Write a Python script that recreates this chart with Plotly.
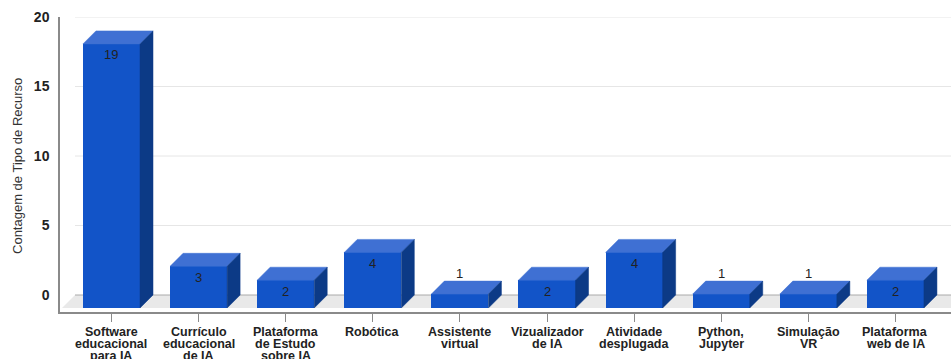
import plotly.graph_objects as go

# --- data -------------------------------------------------------------
categories = [
    "Software\neducacional\npara IA",
    "Currículo\neducacional\nde IA",
    "Plataforma\nde Estudo\nsobre IA",
    "Robótica",
    "Assistente\nvirtual",
    "Vizualizador\nde IA",
    "Atividade\ndesplugada",
    "Python,\nJupyter",
    "Simulação\nVR",
    "Plataforma\nweb de IA",
]
values = [19, 3, 2, 4, 1, 2, 4, 1, 1, 2]
y_ticks = [0, 5, 10, 15, 20]
y_title = "Contagem de Tipo de Recurso"

# --- styling / pseudo-3D geometry ------------------------------------
W, H = 951, 359
M_L, M_R, M_T, M_B = 60, 0, 17, 47
X_RANGE = [-0.591, 9.638]
Y_RANGE = [-1.223, 20]
px_per_x = (W - M_L - M_R) / (X_RANGE[1] - X_RANGE[0])
px_per_y = (H - M_T - M_B) / (Y_RANGE[1] - Y_RANGE[0])
DEPTH_PX = 13
dx = DEPTH_PX / px_per_x      # depth offset in category units
dy = DEPTH_PX / px_per_y      # depth offset in value units
bar_w = 0.655

FRONT = "#1254C8"
TOP = "#3F70D3"
SIDE = "#0C3A86"
FONT = "Arial, Liberation Sans, sans-serif"
TXT = "#222222"
AXIS = "#8a8a8a"

idx = list(range(len(categories)))

fig = go.Figure()

# front faces of the columns (sitting on the front edge of the floor)
fig.add_trace(go.Bar(
    x=idx, y=values, base=[-dy] * len(values), width=bar_w,
    marker=dict(color=FRONT, line=dict(width=0)),
    hoverinfo="skip", showlegend=False,
))

# top and side faces as filled polygons
top_x, top_y, side_x, side_y = [], [], [], []
for i, v in zip(idx, values):
    xl, xr = i - bar_w / 2, i + bar_w / 2
    top_x += [xl, xr, xr + dx, xl + dx, xl, None]
    top_y += [v - dy, v - dy, v, v, v - dy, None]
    side_x += [xr, xr, xr + dx, xr + dx, xr, None]
    side_y += [-dy, v - dy, v, 0, -dy, None]

fig.add_trace(go.Scatter(x=top_x, y=top_y, mode="lines", fill="toself",
                         fillcolor=TOP, line=dict(color=TOP, width=0.5),
                         hoverinfo="skip", showlegend=False))
fig.add_trace(go.Scatter(x=side_x, y=side_y, mode="lines", fill="toself",
                         fillcolor=SIDE, line=dict(color=SIDE, width=0.5),
                         hoverinfo="skip", showlegend=False))

# floor and back-wall gridlines
floor_l = X_RANGE[0] + 2 / px_per_x
floor_r = X_RANGE[1] + 1
shapes = [dict(
    type="path", xref="x", yref="y", layer="below",
    path=f"M {floor_l},{-dy} L {floor_r},{-dy} L {floor_r},0 L {floor_l + dx},0 Z",
    fillcolor="#e9e9e9", line=dict(width=0),
)]
for t in y_ticks:
    shapes.append(dict(
        type="line", xref="x", yref="y", layer="below",
        x0=floor_l + dx, x1=floor_r, y0=t, y1=t,
        line=dict(color="#aaaaaa" if t == 0 else "#e6e6e6", width=1),
    ))

annotations = []
# value labels
for i, v in zip(idx, values):
    inside = v * px_per_y >= 20
    annotations.append(dict(
        x=i, y=(v - dy) if inside else v, xref="x", yref="y",
        text=str(v), showarrow=False, yanchor="middle",
        yshift=-11 if inside else 8,
        font=dict(family=FONT, size=13, color=TXT),
    ))
# category labels, one line at a time
for i, cat in zip(idx, categories):
    for j, line in enumerate(cat.split("\n")):
        annotations.append(dict(
            x=i, y=0, xref="x", yref="paper", text=f"<b>{line}</b>",
            showarrow=False, yanchor="middle", yshift=-20 - 12 * j,
            font=dict(family=FONT, size=12.5, color=TXT),
        ))
# y-axis title
annotations.append(dict(
    x=(18 - M_L) / (W - M_L - M_R), y=0.495, xref="paper", yref="paper",
    text=y_title, textangle=-90, showarrow=False,
    xanchor="center", yanchor="middle",
    font=dict(family=FONT, size=13, color="#333333"),
))

fig.update_layout(
    width=W, height=H,
    margin=dict(l=M_L, r=M_R, t=M_T, b=M_B),
    paper_bgcolor="white", plot_bgcolor="white",
    shapes=shapes, annotations=annotations,
    xaxis=dict(range=X_RANGE, tickvals=idx, showticklabels=False,
               ticks="outside", ticklen=8, tickcolor=AXIS,
               showline=True, linecolor=AXIS, linewidth=1.5,
               showgrid=False, zeroline=False, fixedrange=True),
    yaxis=dict(range=Y_RANGE, tickvals=y_ticks,
               ticktext=[f"<b>{t}</b>" for t in y_ticks],
               tickfont=dict(family=FONT, size=14, color=TXT),
               ticks="", ticklabelstandoff=6,
               showline=True, linecolor=AXIS, linewidth=1.5,
               showgrid=False, zeroline=False, fixedrange=True),
    bargap=0,
)

fig.write_html("out.html")
